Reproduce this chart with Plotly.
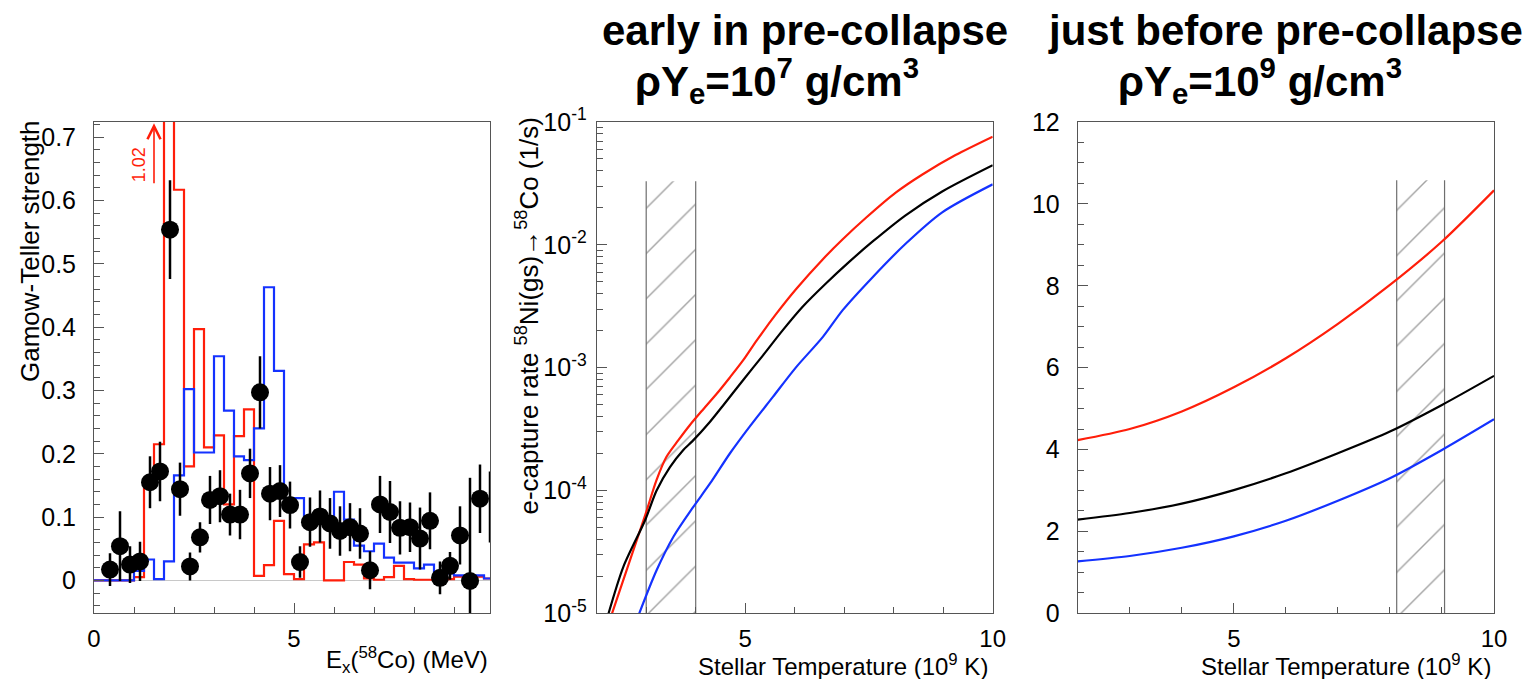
import plotly.graph_objects as go

# ---------------- data ----------------
# Left panel: Gamow-Teller strength vs excitation energy (0.25 MeV bins starting at 0)
bin_width = 0.25
red_gt = [0, 0, 0, 0, 0.005, 0.155, 0.215, 1.02, 0.617, 0.18,
          0.397, 0.21, 0.229, 0.12, 0.228, 0.27, 0.007, 0.024, 0.094, 0.01,
          0.002, 0.057, 0.06, 0.0, 0.0, 0.029, 0.025, 0.003, 0.001, 0.005,
          0.023, 0.002, 0.001, 0.001, 0.003, 0.002, 0.006, 0.006, 0.006, 0.003]
blue_gt = [0, 0, 0, 0, 0.015, 0.033, 0.002, 0.03, 0.166, 0.302,
           0.202, 0.202, 0.354, 0.268, 0.196, 0.19, 0.24, 0.463, 0.331, 0.13,
           0.13, 0.09, 0.10, 0.09, 0.14, 0.096, 0.055, 0.046, 0.058, 0.036,
           0.028, 0.028, 0.019, 0.025, 0.011, 0.011, 0.008, 0.008, 0.008, 0.003]

exp_ex = [0.4, 0.65, 0.9, 1.15, 1.4, 1.65, 1.9, 2.15, 2.4, 2.65,
          2.9, 3.15, 3.4, 3.65, 3.9, 4.15, 4.4, 4.65, 4.9, 5.15,
          5.4, 5.65, 5.9, 6.15, 6.4, 6.65, 6.9, 7.15, 7.4, 7.65,
          7.9, 8.15, 8.4, 8.65, 8.9, 9.15, 9.4, 9.65]
exp_bgt = [0.017, 0.054, 0.025, 0.030, 0.155, 0.172, 0.554, 0.144, 0.022, 0.068,
           0.127, 0.133, 0.104, 0.104, 0.169, 0.297, 0.137, 0.141, 0.119, 0.029,
           0.092, 0.101, 0.090, 0.078, 0.084, 0.074, 0.016, 0.120, 0.108, 0.083,
           0.084, 0.066, 0.094, 0.004, 0.023, 0.071, -0.001, 0.129]
exp_err = [0.026, 0.055, 0.029, 0.031, 0.041, 0.047, 0.078, 0.042, 0.022, 0.024,
           0.038, 0.041, 0.033, 0.039, 0.039, 0.057, 0.042, 0.041, 0.037, 0.025,
           0.039, 0.041, 0.040, 0.039, 0.038, 0.040, 0.030, 0.045, 0.049, 0.042,
           0.039, 0.049, 0.045, 0.026, 0.022, 0.046, 0.163, 0.054]
# point at the right frame edge: only its error bar is visible
edge_ex = [9.9]
edge_bgt = [0.116]
edge_err = [0.056]

peak_arrow_x = 1.5

# Middle panel: e-capture rate (1/s) vs stellar temperature (1e9 K), rhoYe = 1e7
mid_red_t = [2.31, 2.98, 3.21, 3.41, 3.65, 3.88, 4.15, 4.42, 4.69, 4.96,
             5.23, 5.63, 6.03, 6.57, 6.97, 7.44, 8.04, 8.58, 9.25, 10.0]
mid_red_rate = [1.0e-5, 6.3e-5, 1.22e-4, 1.88e-4, 2.57e-4, 3.40e-4, 4.57e-4, 6.10e-4, 8.32e-4, 1.15e-3,
                1.66e-3, 2.75e-3, 4.37e-3, 7.64e-3, 1.11e-2, 1.66e-2, 2.66e-2, 3.74e-2, 5.38e-2, 7.6e-2]
mid_black_t = [2.24, 2.54, 2.98, 3.21, 3.48, 3.75, 3.93, 4.29, 4.55, 4.96,
               5.36, 5.76, 6.16, 6.63, 7.1, 7.57, 8.24, 8.98, 10.0]
mid_black_rate = [1.0e-5, 2.40e-5, 5.75e-5, 1.0e-4, 1.55e-4, 2.14e-4, 2.51e-4, 3.63e-4, 4.90e-4, 7.94e-4,
                  1.26e-3, 2.02e-3, 3.13e-3, 4.84e-3, 7.26e-3, 1.06e-2, 1.74e-2, 2.72e-2, 4.45e-2]
mid_blue_t = [2.86, 3.21, 3.55, 3.93, 4.29, 4.69, 5.09, 5.56, 6.03, 6.57,
              6.97, 7.57, 8.24, 8.98, 10.0]
mid_blue_rate = [1.0e-5, 2.24e-5, 4.20e-5, 7.14e-5, 1.14e-4, 2.0e-4, 3.31e-4, 5.78e-4, 1.01e-3, 1.78e-3,
                 2.94e-3, 5.43e-3, 1.02e-2, 1.84e-2, 3.11e-2]
mid_band = [3.0, 4.0]
mid_band_top = 0.033

# Right panel: rhoYe = 1e9
right_t = [2, 3, 4, 5, 6, 7, 8, 9, 10]
right_red = [4.23, 4.50, 4.93, 5.52, 6.23, 7.07, 8.02, 9.08, 10.33]
right_black = [2.29, 2.45, 2.68, 3.01, 3.42, 3.91, 4.44, 5.09, 5.80]
right_blue = [1.27, 1.40, 1.60, 1.88, 2.26, 2.75, 3.30, 3.99, 4.74]
right_band = [8.13, 9.05]
right_band_top = 10.58

# ---------------- styling ----------------
RED = "#ff1e0a"
BLUE = "#1432ff"
BLACK = "#000000"
HATCH = "#6e6e6e"
HATCH_LINE = "#4a4a4a"
FONT = "Liberation Sans, Arial, sans-serif"

# page body has an 8px margin: size and place the figure so it lands on the window grid
OFF = 8
W, H = 1535 - 2 * OFF, 687 - 2 * OFF


def fx(px):
    return (px - OFF) / W


def fy(py):
    return 1 - (py - OFF) / H


fig = go.Figure()

# ---- left panel histograms ----
edges = [i * bin_width for i in range(len(red_gt) + 1)]
for vals, col in ((red_gt, RED), (blue_gt, BLUE)):
    fig.add_trace(go.Scatter(x=edges, y=vals + [vals[-1]], mode="lines",
                             line=dict(color=col, width=2.2, shape="hv"),
                             xaxis="x", yaxis="y", showlegend=False, hoverinfo="skip"))

fig.add_trace(go.Scatter(x=exp_ex, y=exp_bgt, mode="markers",
                         marker=dict(color=BLACK, size=18),
                         error_y=dict(type="data", array=exp_err, color=BLACK, thickness=2.5, width=0),
                         xaxis="x", yaxis="y", showlegend=False))
fig.add_trace(go.Scatter(x=edge_ex, y=edge_bgt, mode="markers",
                         marker=dict(color=BLACK, size=0.1, opacity=0),
                         error_y=dict(type="data", array=edge_err, color=BLACK, thickness=2.5, width=0),
                         xaxis="x", yaxis="y", showlegend=False, cliponaxis=False))


# ---- hatched bands ----
def add_band(band, bottom, top, xa, ya):
    fig.add_trace(go.Scatter(x=[band[0], band[1], band[1], band[0], band[0]],
                             y=[bottom, bottom, top, top, bottom],
                             mode="lines", fill="toself", line=dict(width=0),
                             fillcolor="rgba(0,0,0,0)",
                             fillpattern=dict(shape="/", size=32, solidity=0.045,
                                              fgcolor=HATCH_LINE, bgcolor="rgba(0,0,0,0)"),
                             xaxis=xa, yaxis=ya, showlegend=False, hoverinfo="skip"))
    fig.add_trace(go.Scatter(x=[band[0], band[0], None, band[1], band[1]],
                             y=[bottom, top, None, bottom, top],
                             mode="lines", line=dict(color=HATCH, width=1.2),
                             xaxis=xa, yaxis=ya, showlegend=False, hoverinfo="skip"))


add_band(mid_band, 1e-5, mid_band_top, "x2", "y2")
add_band(right_band, 0, right_band_top, "x3", "y3")

# ---- middle curves ----
for t, r, col in ((mid_red_t, mid_red_rate, RED), (mid_black_t, mid_black_rate, BLACK),
                  (mid_blue_t, mid_blue_rate, BLUE)):
    fig.add_trace(go.Scatter(x=t, y=r, mode="lines",
                             line=dict(color=col, width=2.2, shape="spline", smoothing=0.8),
                             xaxis="x2", yaxis="y2", showlegend=False))

# ---- right curves ----
for r, col in ((right_red, RED), (right_black, BLACK), (right_blue, BLUE)):
    fig.add_trace(go.Scatter(x=right_t, y=r, mode="lines",
                             line=dict(color=col, width=2.2, shape="spline", smoothing=0.8),
                             xaxis="x3", yaxis="y3", showlegend=False))

# ---------------- axes ----------------
ydom = [fy(613.3), fy(122)]
common = dict(showline=True, linecolor="#555555", linewidth=1, mirror=True,
              ticks="inside", tickcolor="#555555", ticklen=10, tickwidth=1,
              showgrid=False, zeroline=False, automargin=False,
              tickfont=dict(family=FONT, size=25, color="black"))
xtickfont = dict(family=FONT, size=24, color="black")
minor_c = dict(ticks="inside", ticklen=6, tickcolor="#555555", showgrid=False)

fig.update_layout(
    xaxis=dict(common, domain=[fx(94), fx(490)], range=[0, 9.9], tickvals=[0, 5],
               tickfont=xtickfont, ticklabelstandoff=4,
               minor=dict(minor_c, dtick=1), anchor="y"),
    yaxis=dict(common, domain=ydom, range=[-0.052, 0.724], dtick=0.1,
               zeroline=True, zerolinecolor="#c8c8c8", zerolinewidth=1,
               ticklabelstandoff=12, minor=dict(minor_c, dtick=0.02), anchor="x"),
    xaxis2=dict(common, domain=[fx(596.7), fx(992.7)], range=[2, 10], tickvals=[5, 10],
                tickfont=xtickfont, ticklabelstandoff=4,
                minor=dict(minor_c, dtick=1), anchor="y2"),
    yaxis2=dict(common, domain=ydom, type="log", range=[-5, -1],
                tickvals=[1e-5, 1e-4, 1e-3, 1e-2, 1e-1],
                ticktext=["10<sup>-5</sup>", "10<sup>-4</sup>", "10<sup>-3</sup>",
                          "10<sup>-2</sup>", "10<sup>-1</sup>"],
                ticklabelstandoff=4, minor=dict(minor_c, dtick="D1"), anchor="x2"),
    xaxis3=dict(common, domain=[fx(1077.7), fx(1494)], range=[2, 10], tickvals=[5, 10],
                tickfont=xtickfont, ticklabelstandoff=4,
                minor=dict(minor_c, dtick=1), anchor="y3"),
    yaxis3=dict(common, domain=ydom, range=[0, 12], dtick=2,
                ticklabelstandoff=12, minor=dict(minor_c, dtick=0.5), anchor="x3"),
    width=W, height=H,
    margin=dict(l=0, r=0, t=0, b=0, autoexpand=False),
    paper_bgcolor="white", plot_bgcolor="white",
    showlegend=False,
    font=dict(family=FONT, color="black"),
)

ann = []
# peak arrow in left panel
peak_val = max(red_gt)
ann.append(dict(x=peak_arrow_x, y=0.722, ax=peak_arrow_x, ay=0.625, xref="x", yref="y",
                axref="x", ayref="y", showarrow=True, arrowhead=5, arrowsize=1.6,
                arrowwidth=1.6, arrowcolor=RED, text=""))
ann.append(dict(x=peak_arrow_x - 0.37, y=0.656, xref="x", yref="y", showarrow=False,
                text=f"{peak_val:.2f}", textangle=-90, xanchor="center", yanchor="middle",
                font=dict(family=FONT, size=18, color=RED)))

TF = dict(family=FONT, size=24, color="black")
# axis titles
ann.append(dict(x=fx(30), y=fy(118), xref="paper", yref="paper", showarrow=False,
                text="Gamow-Teller strength", textangle=-90, xanchor="center", yanchor="top",
                font=dict(TF, size=26)))
ann.append(dict(x=fx(528), y=fy(116), xref="paper", yref="paper", showarrow=False,
                text="e-capture rate <sup>58</sup>Ni(gs)\u2192<sup>58</sup>Co (1/s)",
                textangle=-90, xanchor="center", yanchor="top", font=dict(TF, size=26)))
ann.append(dict(x=fx(490), y=fy(660), xref="paper", yref="paper", showarrow=False,
                text="E<sub>x</sub>(<sup>58</sup>Co) (MeV)", xanchor="right", yanchor="middle", font=TF))
for xr in (990, 1493):
    ann.append(dict(x=fx(xr), y=fy(665), xref="paper", yref="paper", showarrow=False,
                    text="Stellar Temperature (10<sup>9</sup> K)", xanchor="right",
                    yanchor="middle", font=TF))

# panel titles
HF = dict(family="Liberation Sans Narrow, Liberation Sans, Arial, sans-serif", size=42, color="black")
titles = [(805, 30, "<b>early in pre-collapse</b>"),
          (777, 80, "<b>\u03c1Y<sub>e</sub>=10<sup>7</sup> g/cm<sup>3</sup></b>"),
          (1285, 30, "<b>just before pre-collapse</b>"),
          (1260, 80, "<b>\u03c1Y<sub>e</sub>=10<sup>9</sup> g/cm<sup>3</sup></b>")]
for px, py, txt in titles:
    ann.append(dict(x=fx(px), y=fy(py), xref="paper", yref="paper", showarrow=False,
                    text=txt, xanchor="center", yanchor="middle", font=HF))

fig.update_layout(annotations=ann)

fig.write_html("out.html")
